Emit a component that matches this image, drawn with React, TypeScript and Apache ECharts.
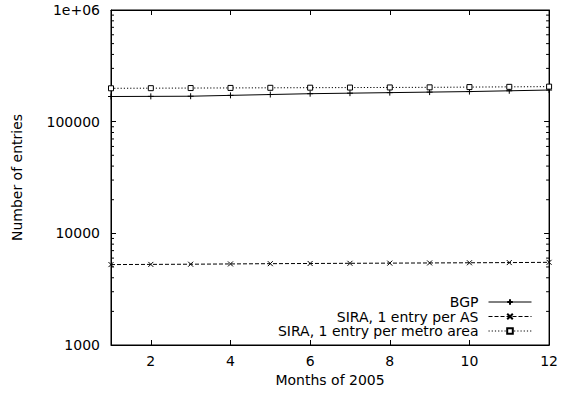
import React, { useEffect, useRef } from "react";
import * as echarts from "echarts";

// Monthly routing-table sizes over 2005
const months = [1, 2, 3, 4, 5, 6, 7, 8, 9, 10, 11, 12];
const bgpEntries = [168000, 168500, 169000, 172000, 175000, 178000, 180000, 182000, 184000, 186000, 189000, 192000];
const siraPerAs = [5250, 5270, 5290, 5320, 5350, 5370, 5390, 5410, 5430, 5450, 5470, 5500];
const siraPerMetro = [199000, 199500, 200000, 200500, 201000, 201500, 202000, 202500, 203000, 204000, 205000, 206000];

const seriesNames = ["BGP", "SIRA, 1 entry per AS", "SIRA, 1 entry per metro area"];
const xTickValues = [2, 4, 6, 8, 10, 12];
const yTickValues = [1000, 10000, 100000, 1000000];
const yTickLabels = ["1000", "10000", "100000", "1e+06"];
const decades = [1000, 10000, 100000];
const minorMultipliers = [2, 3, 4, 5, 6, 7, 8, 9];

const FONT = "DejaVu Sans";
const FS = 14;

export default function App() {
  const ref = useRef<HTMLDivElement>(null);

  useEffect(() => {
    if (!ref.current) return;
    const chart = echarts.init(ref.current, undefined, { renderer: "svg" });

    const minorTicks: number[][] = [];
    decades.forEach((d) => minorMultipliers.forEach((m) => minorTicks.push([months[0], d * m])));

    const xMin = months[0];
    const xMax = months[months.length - 1];

    const tickFont = { fontFamily: FONT, fontSize: FS, color: "#000" };

    chart.setOption({
      animation: false,
      backgroundColor: "#fff",
      textStyle: { fontFamily: FONT },
      grid: {
        left: 111,
        right: 10,
        top: 10,
        bottom: 52,
        show: true,
        borderColor: "#000",
        borderWidth: 1,
        backgroundColor: "transparent",
      },
      legend: {
        data: seriesNames,
        orient: "vertical",
        align: "right",
        right: 24,
        top: 290,
        itemWidth: 43,
        itemHeight: 7,
        itemGap: 0.5,
        lineStyle: { width: 1 },
        textStyle: { ...tickFont, padding: [0, 5, 0, 0] },
        selectedMode: false,
      },
      xAxis: [
        {
          type: "value",
          min: xMin,
          max: xMax,
          position: "bottom",
          name: "Months of 2005",
          nameLocation: "middle",
          nameGap: 28,
          nameTextStyle: tickFont,
          axisLine: { show: true, lineStyle: { color: "#000" } },
          axisTick: { show: true, inside: true, length: 5, customValues: xTickValues, lineStyle: { color: "#000" } },
          axisLabel: { ...tickFont, margin: 9, customValues: xTickValues },
          splitLine: { show: false },
        },
        {
          type: "value",
          min: xMin,
          max: xMax,
          position: "top",
          axisLine: { show: true, lineStyle: { color: "#000" } },
          axisTick: { show: true, inside: true, length: 5, customValues: xTickValues, lineStyle: { color: "#000" } },
          axisLabel: { show: false },
          splitLine: { show: false },
        },
      ],
      yAxis: [
        {
          type: "log",
          logBase: 10,
          min: yTickValues[0],
          max: yTickValues[yTickValues.length - 1],
          position: "left",
          name: "Number of entries",
          nameLocation: "middle",
          nameGap: 87,
          nameTextStyle: tickFont,
          axisLine: { show: true, lineStyle: { color: "#000" } },
          axisTick: { show: true, inside: true, length: 5, lineStyle: { color: "#000" } },
          axisLabel: {
            ...tickFont,
            margin: 11,
            formatter: (v: number) => {
              const i = yTickValues.findIndex((t) => Math.abs(t - v) / t < 1e-6);
              return i >= 0 ? yTickLabels[i] : "";
            },
          },
          splitLine: { show: false },
        },
        {
          type: "log",
          logBase: 10,
          min: yTickValues[0],
          max: yTickValues[yTickValues.length - 1],
          position: "right",
          axisLine: { show: true, lineStyle: { color: "#000" } },
          axisTick: { show: true, inside: true, length: 5, lineStyle: { color: "#000" } },
          axisLabel: { show: false },
          splitLine: { show: false },
        },
      ],
      series: [
        {
          name: seriesNames[0],
          type: "line",
          xAxisIndex: 0,
          yAxisIndex: 0,
          data: months.map((m, i) => [m, bgpEntries[i]]),
          symbol: "path://M0,-5L0,5M-5,0L5,0",
          symbolSize: 6,
          showAllSymbol: true,
          lineStyle: { color: "#000", width: 1, type: "solid" },
          itemStyle: { color: "#000", borderColor: "#000", borderWidth: 1 },
        },
        {
          name: seriesNames[1],
          type: "line",
          xAxisIndex: 0,
          yAxisIndex: 0,
          data: months.map((m, i) => [m, siraPerAs[i]]),
          symbol: "path://M-5,-5L5,5M-5,5L5,-5",
          symbolSize: 5,
          showAllSymbol: true,
          lineStyle: { color: "#000", width: 1, type: [4, 2] },
          itemStyle: { color: "#000", borderColor: "#000", borderWidth: 1 },
        },
        {
          name: seriesNames[2],
          type: "line",
          xAxisIndex: 0,
          yAxisIndex: 0,
          data: months.map((m, i) => [m, siraPerMetro[i]]),
          symbol: "rect",
          symbolSize: 5,
          showAllSymbol: true,
          lineStyle: { color: "#000", width: 1, type: [1.2, 2] },
          itemStyle: { color: "#fff", borderColor: "#000", borderWidth: 1 },
        },
        {
          // minor log ticks on both vertical borders
          type: "custom",
          xAxisIndex: 0,
          yAxisIndex: 0,
          silent: true,
          data: minorTicks,
          encode: { x: 0, y: 1 },
          renderItem: (_params: any, api: any) => {
            const v = api.value(1);
            const l = api.coord([xMin, v]);
            const r = api.coord([xMax, v]);
            const style = { stroke: "#000", lineWidth: 1 };
            return {
              type: "group",
              children: [
                { type: "line", shape: { x1: l[0], y1: l[1], x2: l[0] + 3, y2: l[1] }, style },
                { type: "line", shape: { x1: r[0], y1: r[1], x2: r[0] - 3, y2: r[1] }, style },
              ],
            };
          },
        },
      ],
    });

    return () => chart.dispose();
  }, []);

  return <div ref={ref} style={{ width: 561, height: 397, position: "absolute", left: 0, top: 0 }} />;
}
